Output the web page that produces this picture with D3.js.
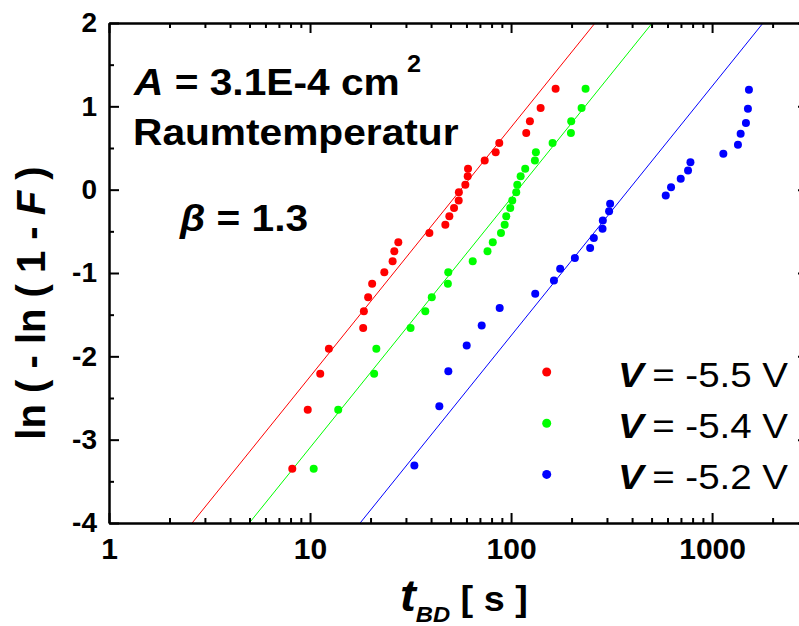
<!DOCTYPE html>
<html>
<head>
<meta charset="utf-8">
<script src="https://cdn.jsdelivr.net/npm/d3@7"></script>
<style>
  html, body { margin: 0; padding: 0; background: #fff; }
  svg { display: block; }
  text { font-family: "Liberation Sans", Arial, Helvetica, sans-serif; }
</style>
</head>
<body>
<svg id="chart" width="799" height="626"></svg>
<script>
// Breakdown times t_BD [s] (Weibull plot) for three gate voltages
const seriesNames = ["-5.5 V", "-5.4 V", "-5.2 V"];
const seriesColors = ["#ff0000", "#00ff00", "#0000ff"];

const tRed = [8.16, 9.74, 11.24, 12.41, 18.38, 18.53, 19.46, 20.37, 23.42, 25.75,
  26.26, 27.49, 39.24, 47.11, 49.32, 52.04, 54.9, 55.0, 59.23, 60.87,
  61.08, 73.94, 83.85, 87.38, 118.98, 124.1, 140.3, 166.6];
const yRed = [-3.35, -2.64, -2.21, -1.91, -1.66, -1.46, -1.29, -1.13, -0.99, -0.86,
  -0.74, -0.63, -0.52, -0.42, -0.32, -0.22, -0.13, -0.03, 0.06, 0.16,
  0.25, 0.35, 0.45, 0.56, 0.68, 0.82, 0.98, 1.21];

const tGreen = [10.43, 13.81, 20.84, 21.37, 31.64, 37.44, 40.33, 48.5, 48.7, 64.46,
  76.35, 81.1, 89.1, 92.95, 94.67, 99.1, 101.4, 106.1, 107.4, 111.6,
  117.6, 131.4, 132.9, 160.9, 198.5, 199.2, 224.3, 234.8];
const yGreen = [-3.35, -2.64, -2.21, -1.91, -1.66, -1.46, -1.29, -1.13, -0.99, -0.86,
  -0.74, -0.63, -0.52, -0.42, -0.32, -0.22, -0.13, -0.03, 0.06, 0.16,
  0.25, 0.35, 0.45, 0.56, 0.68, 0.82, 0.98, 1.21];

const tBlue = [33.04, 43.98, 48.75, 60.17, 71.45, 87.78, 131.9, 163.4, 175.5, 207.7,
  247.4, 258.1, 285.1, 286.1, 307.4, 311.0, 588.2, 624.9, 698.2, 759.2,
  780.4, 1137.6, 1344.8, 1387.0, 1473.7, 1507.7, 1525.2];
const yBlue = [-3.31, -2.60, -2.18, -1.87, -1.63, -1.42, -1.25, -1.09, -0.95, -0.82,
  -0.70, -0.58, -0.47, -0.37, -0.26, -0.17, -0.07, 0.03, 0.13, 0.23,
  0.33, 0.43, 0.54, 0.67, 0.80, 0.97, 1.20];

// Weibull fit: characteristic life eta [s] per series, common shape beta
const fitEta = [56.2, 108.2, 385];
const beta = 1.3;

const xMajorTicks = [1, 10, 100, 1000];
const xMinorTicks = [2, 3, 4, 5, 6, 7, 8, 9, 20, 30, 40, 50, 60, 70, 80, 90,
  200, 300, 400, 500, 600, 700, 800, 900, 2000];
const yMajorTicks = [-4, -3, -2, -1, 0, 1, 2];
const yMinorTicks = [-3.5, -2.5, -1.5, -0.5, 0.5, 1.5];

const seriesT = [tRed, tGreen, tBlue];
const seriesY = [yRed, yGreen, yBlue];

const svg = d3.select("#chart");
const plotLeft = 109, plotRight = 808, plotTop = 23, plotBottom = 523;

const x = d3.scaleLog().domain([1, 3000]).range([plotLeft, plotRight]);
const y = d3.scaleLinear().domain([-4, 2]).range([plotBottom, plotTop]);

svg.append("defs").append("clipPath").attr("id", "plotClip")
  .append("rect").attr("x", plotLeft).attr("y", plotTop)
  .attr("width", plotRight - plotLeft).attr("height", plotBottom - plotTop);

// Fit lines
const lineLayer = svg.append("g").attr("clip-path", "url(#plotClip)");
fitEta.forEach((eta, i) => {
  const tLow = eta * Math.exp(-4 / beta);
  const tHigh = eta * Math.exp(2 / beta);
  lineLayer.append("line")
    .attr("x1", x(tLow)).attr("y1", y(-4))
    .attr("x2", x(tHigh)).attr("y2", y(2))
    .attr("stroke", seriesColors[i]).attr("stroke-width", 1);
});

// Data points
seriesT.forEach((ts, i) => {
  const pts = ts.map((t, j) => [t, seriesY[i][j]]);
  svg.append("g").selectAll("circle").data(pts).join("circle")
    .attr("cx", d => x(d[0])).attr("cy", d => y(d[1]))
    .attr("r", 4).attr("fill", seriesColors[i]);
});

// Axes
function styleAxis(g) {
  g.selectAll("path.domain").attr("stroke", "#000").attr("stroke-width", 2);
  g.selectAll(".tick line").attr("stroke", "#000").attr("stroke-width", 2);
}

// plain hyphen for negative labels
const fmt = d => String(d);
const gxB = svg.append("g").attr("transform", `translate(0,${plotBottom})`)
  .call(d3.axisBottom(x).tickValues(xMajorTicks).tickFormat(fmt)
    .tickSizeInner(-10).tickSizeOuter(0).tickPadding(15));
gxB.call(styleAxis);
gxB.selectAll("text").attr("font-size", 30).attr("font-weight", "bold")
  .attr("fill", "#000").attr("font-family", "Liberation Sans, Arial, sans-serif");
svg.append("g").attr("transform", `translate(0,${plotBottom})`)
  .call(d3.axisBottom(x).tickValues(xMinorTicks).tickFormat("")
    .tickSizeInner(-5).tickSizeOuter(0)).call(styleAxis);

svg.append("g").attr("transform", `translate(0,${plotTop})`)
  .call(d3.axisTop(x).tickValues(xMajorTicks).tickFormat("")
    .tickSizeInner(-10).tickSizeOuter(0)).call(styleAxis);
svg.append("g").attr("transform", `translate(0,${plotTop})`)
  .call(d3.axisTop(x).tickValues(xMinorTicks).tickFormat("")
    .tickSizeInner(-5).tickSizeOuter(0)).call(styleAxis);

const gyL = svg.append("g").attr("transform", `translate(${plotLeft},0)`)
  .call(d3.axisLeft(y).tickValues(yMajorTicks).tickFormat(fmt)
    .tickSizeInner(-10).tickSizeOuter(0).tickPadding(12));
gyL.call(styleAxis);
gyL.selectAll("text").attr("font-size", 28).attr("font-weight", "bold")
  .attr("fill", "#000").attr("font-family", "Liberation Sans, Arial, sans-serif");
svg.append("g").attr("transform", `translate(${plotLeft},0)`)
  .call(d3.axisLeft(y).tickValues(yMinorTicks).tickFormat("")
    .tickSizeInner(-5).tickSizeOuter(0)).call(styleAxis);

svg.append("g").attr("transform", `translate(${plotRight},0)`)
  .call(d3.axisRight(y).tickValues(yMajorTicks).tickFormat("")
    .tickSizeInner(-10).tickSizeOuter(0)).call(styleAxis);
svg.append("g").attr("transform", `translate(${plotRight},0)`)
  .call(d3.axisRight(y).tickValues(yMinorTicks).tickFormat("")
    .tickSizeInner(-5).tickSizeOuter(0)).call(styleAxis);

// Axis titles
const yTitle = svg.append("text")
  .attr("transform", "translate(45,303) rotate(-90)")
  .attr("text-anchor", "middle").attr("font-size", 40).attr("font-weight", "bold");
yTitle.append("tspan").text("ln ( - ln ( 1 - ");
yTitle.append("tspan").attr("font-style", "italic").text("F");
yTitle.append("tspan").text(" )");

const xTitle = svg.append("g").attr("transform", "translate(400,611) scale(1.08,1)");
const xt = xTitle.append("text").attr("font-weight", "bold");
xt.append("tspan").attr("font-size", 44).attr("font-style", "italic").text("t");
xt.append("tspan").attr("font-size", 22).attr("font-style", "italic").attr("dy", 11).text("BD");
xt.append("tspan").attr("font-size", 35).attr("dy", -11).text(" [ s ]");

// Annotations
const ann1 = svg.append("g").attr("transform", "translate(134,95) scale(1.1,1)")
  .append("text").attr("font-size", 37).attr("font-weight", "bold");
ann1.append("tspan").attr("font-style", "italic").text("A");
ann1.append("tspan").text(" = 3.1E-4 cm");
svg.append("g").attr("transform", "translate(407,71.5) scale(1.1,1)")
  .append("text").attr("font-size", 23).attr("font-weight", "bold").text("2");

svg.append("g").attr("transform", "translate(133,145) scale(1.1,1)")
  .append("text").attr("font-size", 37).attr("font-weight", "bold").text("Raumtemperatur");

const ann3 = svg.append("g").attr("transform", "translate(180,231) scale(1.1,1)")
  .append("text").attr("font-size", 37).attr("font-weight", "bold");
ann3.append("tspan").attr("font-style", "italic").text("β");
ann3.append("tspan").text(" = 1.3");

// Legend
seriesNames.forEach((name, i) => {
  const yy = 372 + i * 51.2;
  svg.append("circle").attr("cx", 546.7).attr("cy", yy).attr("r", 4.5)
    .attr("fill", seriesColors[i]);
  const t = svg.append("g").attr("transform", `translate(618,${yy + 14.5}) scale(1.1,1)`)
    .append("text").attr("font-size", 35);
  t.append("tspan").attr("font-weight", "bold").attr("font-style", "italic").text("V");
  t.append("tspan").attr("dx", -2).text(" = " + name);
});
</script>
</body>
</html>
